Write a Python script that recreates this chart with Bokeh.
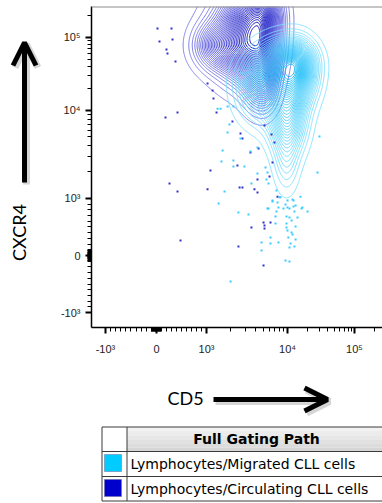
import numpy as np
from bokeh.plotting import figure
from bokeh.models import Range1d, FixedTicker, CustomJSTickFormatter, Arrow, OpenHead, Span
from bokeh.layouts import column, row
from bokeh.embed import file_html
from bokeh.resources import INLINE
from bokeh.core.properties import value

# ---------------- data ----------------
# outlier events, CD5 and CXCR4 intensities
CIRC_CD5 = [20, 300, 60, 320, 200, 220, 380, 1030, 1220, 180, 420, 1190, 1330, 2090, 2630, 2780, 5200, 6350, 6910, 4390, 3490, 6530, 2410, 1120, 260, 420, 1030, 2560, 2780, 3910, 4260, 6000, 4260, 7530, 5060, 6170, 5200, 5200, 3590, 480, 2480, 5060]
CIRC_CXCR4 = [133000, 133000, 88100, 93800, 68400, 60300, 46900, 23400, 14600, 8320, 9490, 18800, 9490, 7500, 5480, 4810, 6760, 5340, 4330, 3700, 3330, 2570, 2370, 2080, 1480, 1200, 1270, 1330, 1330, 1270, 1640, 1780, 1170, 1050, 579, 579, 526, 474, 491, 263, 158, -175]
MIG_CD5 = [1370, 1490, 1820, 2150, 1920, 1820, 2630, 1580, 3490, 4260, 1530, 2150, 2150, 2940, 4260, 5350, 5660, 5500, 5830, 3590, 1670, 6530, 7310, 7960, 10000, 12300, 15600, 28000, 5660, 7740, 10000, 12300, 16700, 30000, 1410, 2480, 3300, 5830, 6530, 7530, 8200, 9440, 11900, 13200, 10700, 8920, 16200, 19900, 7310, 12700, 7110, 9720, 10700, 14100, 11500, 9720, 7110, 13200, 9720, 10000, 11500, 11900, 10300, 6170, 13200, 11100, 4780, 6170, 7740, 10700, 12700, 4780, 9440, 10700, 1980]
MIG_CXCR4 = [10600, 10600, 11300, 11300, 6930, 5620, 4810, 3510, 3420, 3800, 2630, 2700, 2310, 2310, 1920, 2250, 1970, 1640, 1480, 1480, 1200, 965, 1230, 1030, 965, 965, 1050, 1970, 825, 842, 842, 860, 842, 5060, 912, 754, 719, 825, 947, 930, 1030, 895, 982, 877, 825, 825, 825, 772, 772, 772, 684, 684, 667, 667, 614, 561, 561, 509, 491, 439, 404, 368, 316, 316, 281, 211, 228, 211, 228, 140, 158, 87, -87, -105, -456]

# population density model: modes as intensities, spreads (left/right/down/up) in display units
CIRC_MODE_CD5 = [4140, 1350, 4910, 4910]
CIRC_MODE_CXCR4 = [85300, 77600, 22000, 220000]
CIRC_SPREAD_L = [0.45, 0.28, 0.22, 0.42]
CIRC_SPREAD_R = [0.26, 0.36, 0.18, 0.24]
CIRC_SPREAD_D = [0.42, 0.25, 0.30, 0.30]
CIRC_SPREAD_U = [0.53, 0.25, 0.30, 0.30]
CIRC_WEIGHT = [1.0, 0.30, 0.30, 0.30]
MIG_MODE_CD5 = [11870, 4910, 10000, 9720]
MIG_MODE_CXCR4 = [40000, 22000, 8770, 2700]
MIG_SPREAD_L = [0.36, 0.30, 0.22, 0.15]
MIG_SPREAD_R = [0.26, 0.30, 0.22, 0.15]
MIG_SPREAD_D = [0.38, 0.38, 0.40, 0.36]
MIG_SPREAD_U = [0.27, 0.32, 0.40, 0.36]
MIG_WEIGHT = [1.0, 0.35, 0.45, 0.11]

MAJOR_TICKS = [-1000, 0, 1000, 10000, 100000]
MAJOR_LABELS = ["-10\u00b3", "0", "10\u00b3", "10\u2074", "10\u2075"]
X_TITLE, Y_TITLE = "CD5", "CXCR4"
LEGEND_TITLE = "Full Gating Path"
LEGEND_NAMES = ["Lymphocytes/Migrated CLL cells", "Lymphocytes/Circulating CLL cells"]
LEGEND_COLORS = ["#00ccff", "#0000cc"]

# ---------------- biexponential display scale ----------------
DECADE_G = [-1, 0, 1, 2, 3]
X_SCALE = [-1.01, 0.0, 0.99, 2.594, 3.921]
Y_SCALE = [-1.0, 0.0, 1.0, 2.544, 3.825]

def g_of(v):
    v = np.asarray(v, float); a = np.abs(v)
    return np.where(a <= 1000, v / 1000, np.sign(v) * (1 + np.log10(np.maximum(a, 1000) / 1000)))

def disp(v, S):
    g = g_of(v); G = np.array(DECADE_G, float); S = np.array(S, float)
    out = np.interp(g, G, S)
    out = np.where(g > G[-1], S[-1] + (g - G[-1]) * (S[-1] - S[-2]), out)
    out = np.where(g < G[0], S[0] + (g - G[0]) * (S[1] - S[0]), out)
    return out

# ---------------- layout geometry (screen pixels) ----------------
LEFT_W = 45
FRAME_L, FRAME_R, FRAME_T, FRAME_B = 91, 382, 6, 327
MAIN_H = 372
BOT_H = 503 - MAIN_H
XR = (-1.287, 4.475)
YR = (-1.263, 4.368)

# ---------------- main plot ----------------
p = figure(width=FRAME_R - LEFT_W, height=MAIN_H, output_backend="svg", toolbar_location=None,
           x_range=Range1d(*XR), y_range=Range1d(*YR),
           min_border_left=FRAME_L - LEFT_W, min_border_right=0,
           min_border_top=FRAME_T, min_border_bottom=MAIN_H - FRAME_B)
p.grid.visible = False
p.outline_line_color = None
p.background_fill_color = "white"
p.border_fill_color = "white"

gx = np.linspace(XR[0], XR[1], 340)
gy = np.linspace(YR[0], YR[1] + 0.8, 380)
GX, GY = np.meshgrid(gx, gy)

def density(mx, my, sl, sr, sd, su, w):
    cx = disp(mx, X_SCALE); cy = disp(my, Y_SCALE)
    z = np.zeros_like(GX)
    for i in range(len(w)):
        dx = GX - cx[i]; dy = GY - cy[i]
        sx = np.where(dx < 0, sl[i], sr[i]); sy = np.where(dy < 0, sd[i], su[i])
        z += w[i] * np.exp(-0.5 * (dx / sx) ** 2 - 0.5 * (dy / sy) ** 2)
    return z

def ramp(c0, c1, n):
    a = np.array([int(c0[i:i+2], 16) for i in (1, 3, 5)], float)
    b = np.array([int(c1[i:i+2], 16) for i in (1, 3, 5)], float)
    return ["#%02x%02x%02x" % tuple(np.round(a + (b - a) * t).astype(int)) for t in np.linspace(0, 1, n)]

NLEV = 36
zc = density(CIRC_MODE_CD5, CIRC_MODE_CXCR4, CIRC_SPREAD_L, CIRC_SPREAD_R, CIRC_SPREAD_D, CIRC_SPREAD_U, CIRC_WEIGHT)
zm = density(MIG_MODE_CD5, MIG_MODE_CXCR4, MIG_SPREAD_L, MIG_SPREAD_R, MIG_SPREAD_D, MIG_SPREAD_U, MIG_WEIGHT)
lev_c = list(np.linspace(0.02, 0.97, NLEV) * zc.max())
lev_m = list(np.linspace(0.02, 0.97, NLEV) * zm.max())
p.contour(gx, gy, zc, lev_c, line_color=ramp("#8080e8", "#1010c0", NLEV), line_width=1)
p.contour(gx, gy, zm, lev_m, line_color=ramp("#80e0ff", "#08b6f4", NLEV), line_width=1, line_alpha=0.9)

p.scatter(disp(CIRC_CD5, X_SCALE), disp(CIRC_CXCR4, Y_SCALE), marker="square", size=2,
          fill_color="#3333cc", line_color=None)
p.scatter(disp(MIG_CD5, X_SCALE), disp(MIG_CXCR4, Y_SCALE), marker="square", size=2,
          fill_color="#38ccff", line_color=None)

minor = []
for k in (1, 2, 3, 4):
    for m in range(2 if k > 2 else 1, 10):
        minor += [m * 10 ** k]
minor += [200000]
minor = sorted(set(minor + [-v for v in minor if v < 1000]))
fmt_code = "for (let i = 0; i < t.length; i++) { if (Math.abs(tick - t[i]) < 1e-6) return l[i]; } return '';"
for ax, S in ((p.xaxis, X_SCALE), (p.yaxis, Y_SCALE)):
    maj = [float(v) for v in disp(MAJOR_TICKS, S)]
    ax.ticker = FixedTicker(ticks=maj, minor_ticks=[float(v) for v in disp(minor, S)])
    ax.formatter = CustomJSTickFormatter(args=dict(t=maj, l=MAJOR_LABELS), code=fmt_code)
    ax.axis_line_color = "black"
    ax.axis_line_width = 1.5
    ax.major_tick_line_color = "black"
    ax.major_tick_line_width = 2
    ax.minor_tick_line_color = "black"
    ax.major_tick_in = 0
    ax.major_tick_out = 6
    ax.minor_tick_in = 0
    ax.minor_tick_out = 4
    ax.major_label_text_font = "Liberation Sans"
    ax.major_label_text_font_size = "11px"
    ax.major_label_text_color = "#222222"
p.xaxis.major_label_standoff = 9
p.yaxis.major_label_standoff = 5
p.add_layout(Span(location=YR[1], dimension="width", line_color="#8c8c8c", line_width=2))

def add_arrow(fig, x0, y0, x1, y1):
    for d, alpha, lw in ((2, 0.16, 7), (0, 1.0, 5)):
        fig.add_layout(Arrow(end=OpenHead(size=23, line_width=lw, line_color="black", line_alpha=alpha),
                             x_start=x0 + d, y_start=y0 + d, x_end=x1 + d, y_end=y1 + d,
                             line_width=lw, line_color="black", line_alpha=alpha))

# ---------------- left panel: y title and arrow ----------------
lf = figure(width=LEFT_W, height=MAIN_H, output_backend="svg", toolbar_location=None,
            x_range=Range1d(0, LEFT_W), y_range=Range1d(FRAME_B, FRAME_T),
            x_axis_type=None, y_axis_type=None,
            min_border_left=0, min_border_right=0, min_border_top=FRAME_T, min_border_bottom=MAIN_H - FRAME_B)
lf.grid.visible = False
lf.outline_line_color = None
lf.border_fill_color = "white"
add_arrow(lf, 24, 182, 24, 42)
lf.text(x=[18], y=[232], text=[Y_TITLE], angle=np.pi / 2, text_font=value("Lato"), text_font_size="18px",
        text_align="center", text_baseline="middle", text_color="black")

# ---------------- bottom panel: x title, arrow and legend table ----------------
bf = figure(width=FRAME_R - LEFT_W, height=BOT_H, output_backend="svg", toolbar_location=None,
            x_range=Range1d(FRAME_L, FRAME_R), y_range=Range1d(503, MAIN_H),
            x_axis_type=None, y_axis_type=None,
            min_border_left=FRAME_L - LEFT_W, min_border_right=0, min_border_top=0, min_border_bottom=0)
bf.grid.visible = False
bf.outline_line_color = None
bf.border_fill_color = "white"
bf.text(x=[185], y=[397], text=[X_TITLE], text_font=value("Lato"), text_font_size="18px",
        text_align="center", text_baseline="middle", text_color="black")
add_arrow(bf, 213, 399, 327, 399)

TL, TC, TR = 101.5, 126.5, 400
rows_y = [426.5, 451, 476, 500.5]
hdr = ramp("#f2f2f2", "#d6d6d6", 6)
step = (rows_y[1] - rows_y[0]) / len(hdr)
bf.quad(left=[TC] * len(hdr), right=[TR] * len(hdr),
        top=[rows_y[0] + i * step for i in range(len(hdr))],
        bottom=[rows_y[0] + (i + 1) * step for i in range(len(hdr))],
        fill_color=hdr, line_color=None)
bf.segment(x0=[TL] * 4, y0=rows_y, x1=[TR] * 4, y1=rows_y, line_color="#3a3a3a", line_width=1)
bf.segment(x0=[TL, TC], y0=[rows_y[0]] * 2, x1=[TL, TC], y1=[rows_y[-1]] * 2, line_color="#3a3a3a", line_width=1)
bf.quad(left=[104, 104], right=[121, 121], top=[454, 479], bottom=[471, 496],
        fill_color=LEGEND_COLORS, line_color="#6a6a9a", line_width=0.5)
bf.text(x=[256], y=[(rows_y[0] + rows_y[1]) / 2], text=[LEGEND_TITLE], text_font=value("DejaVu Sans"),
        text_font_style="bold", text_font_size="14px", text_align="center", text_baseline="middle",
        text_color="black")
bf.text(x=[130, 130], y=[(rows_y[1] + rows_y[2]) / 2, (rows_y[2] + rows_y[3]) / 2], text=LEGEND_NAMES,
        text_font=value("DejaVu Sans"), text_font_size="14px", text_align="left",
        text_baseline="middle", text_color="black")

layout = row(lf, column(p, bf))
open("out.html", "w").write(file_html(layout, INLINE))
